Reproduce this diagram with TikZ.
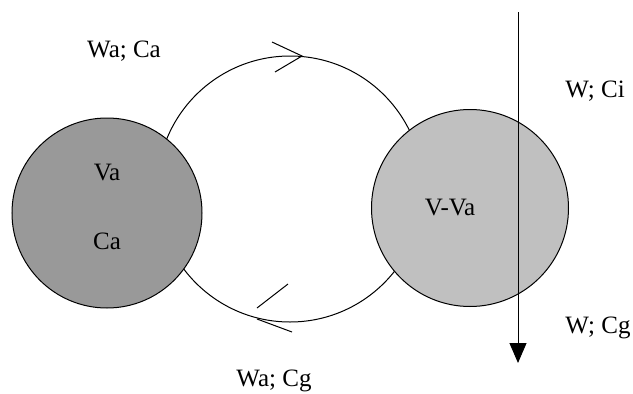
\documentclass[tikz,border=0pt]{standalone}
\usepackage{fontspec}
\setmainfont{Liberation Serif}
\usetikzlibrary{arrows.meta}
\begin{document}
\begin{tikzpicture}[x=1pt,y=-1pt,line width=1pt,
  lbl/.style={anchor=base,inner sep=0pt,font=\fontsize{25}{30}\selectfont},
  ball/.style={circle,draw=black,inner sep=0pt}]
\useasboundingbox (0,0) rectangle (633,394);
% flow loop
\node[circle,draw=black,minimum size=266pt,inner sep=0pt] (loop) at (290,189) {};
% compartments
\node[ball,fill={rgb,255:red,153;green,153;blue,153},minimum size=190pt] (A) at (107,213) {};
\node[ball,fill={rgb,255:red,192;green,192;blue,192},minimum size=197pt] (B) at (470,208) {};
\node[lbl] (va) at (107,180) {Va};
\node[lbl] (ca) at (107,249) {Ca};
\node[lbl] (vva) at (450,215) {V-Va};
\node[lbl] (waca) at (124,57) {Wa; Ca};
\node[lbl] (wacg) at (274,386) {Wa; Cg};
\node[lbl] (wci) at (595,97) {W; Ci};
\node[lbl] (wcg) at (598,333) {W; Cg};
% chevrons on loop
\coordinate (t1) at (272,42); \coordinate (t0) at (302,56); \coordinate (t2) at (275,72);
\draw (t1) -- (t0) -- (t2);
\coordinate (b1) at (288,284); \coordinate (b2) at (257,308);
\coordinate (b3) at (257,319); \coordinate (b4) at (292,332);
\draw (b1) -- (b2);
\draw (b3) -- (b4);
% through-flow arrow
\coordinate (s) at (518,12); \coordinate (e) at (518,363);
\draw[-{Triangle[length=20pt,width=17pt]}] (s) -- (e);
\end{tikzpicture}
\end{document}
